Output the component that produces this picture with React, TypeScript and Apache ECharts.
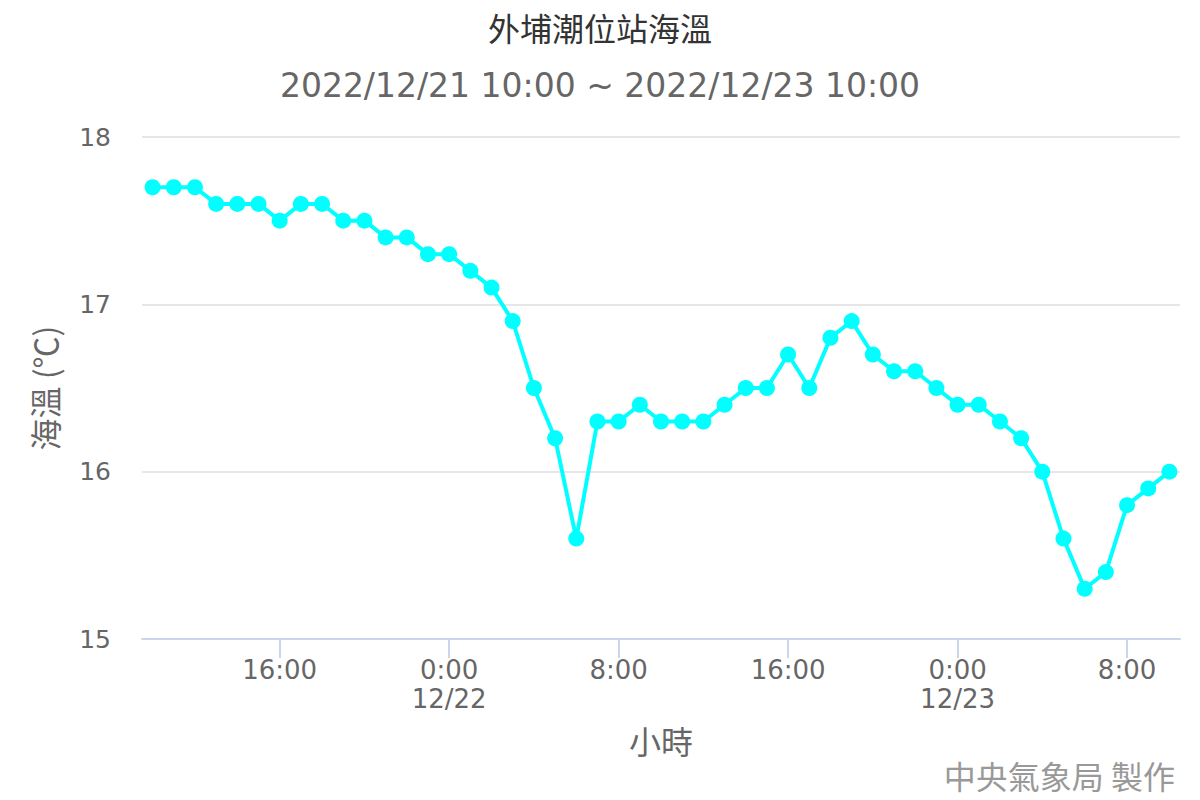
import { useEffect, useRef } from "react"
import * as echarts from "echarts"

// 2022/12/21 10:00 ~ 2022/12/23 10:00, hourly
const categories = [
  "12/21 10:00", "12/21 11:00", "12/21 12:00", "12/21 13:00", "12/21 14:00", "12/21 15:00",
  "12/21 16:00", "12/21 17:00", "12/21 18:00", "12/21 19:00", "12/21 20:00", "12/21 21:00",
  "12/21 22:00", "12/21 23:00", "12/22 0:00", "12/22 1:00", "12/22 2:00", "12/22 3:00",
  "12/22 4:00", "12/22 5:00", "12/22 6:00", "12/22 7:00", "12/22 8:00", "12/22 9:00",
  "12/22 10:00", "12/22 11:00", "12/22 12:00", "12/22 13:00", "12/22 14:00", "12/22 15:00",
  "12/22 16:00", "12/22 17:00", "12/22 18:00", "12/22 19:00", "12/22 20:00", "12/22 21:00",
  "12/22 22:00", "12/22 23:00", "12/23 0:00", "12/23 1:00", "12/23 2:00", "12/23 3:00",
  "12/23 4:00", "12/23 5:00", "12/23 6:00", "12/23 7:00", "12/23 8:00", "12/23 9:00",
  "12/23 10:00",
]

const seaTemp = [
  17.7, 17.7, 17.7, 17.6, 17.6, 17.6, 17.5, 17.6, 17.6, 17.5, 17.5, 17.4,
  17.4, 17.3, 17.3, 17.2, 17.1, 16.9, 16.5, 16.2, 15.6, 16.3, 16.3, 16.4,
  16.3, 16.3, 16.3, 16.4, 16.5, 16.5, 16.7, 16.5, 16.8, 16.9, 16.7, 16.6,
  16.6, 16.5, 16.4, 16.4, 16.3, 16.2, 16.0, 15.6, 15.3, 15.4, 15.8, 15.9,
  16.0,
]

const yTicks = [15, 16, 17, 18]

const titleText = "外埔潮位站海溫"
const subtitleText = "2022/12/21 10:00 ~ 2022/12/23 10:00"
const creditText = "中央氣象局 製作"

const cjk = '"Noto Sans CJK TC", "Noto Sans CJK SC", sans-serif'
const latin = '"DejaVu Sans", "Noto Sans CJK TC", sans-serif'

export default function App() {
  const hostRef = useRef<HTMLDivElement>(null)

  useEffect(() => {
    const el = hostRef.current
    if (!el) return
    const chart = echarts.init(el, undefined, { renderer: "svg" })

    // a label (and tick) every 8 hours, starting at 16:00
    const showLabel = (i: number) => i % 8 === 6

    chart.setOption({
      animation: false,
      backgroundColor: "#ffffff",
      title: [
        {
          text: titleText,
          left: "center",
          top: 6,
          textStyle: { fontFamily: cjk, fontSize: 32, fontWeight: "normal", color: "#333333" },
        },
        {
          text: subtitleText,
          left: "center",
          top: 64,
          textStyle: { fontFamily: latin, fontSize: 33, fontWeight: "normal", color: "#666666" },
        },
        {
          text: creditText,
          right: 20,
          bottom: 4,
          textStyle: { fontFamily: cjk, fontSize: 32, fontWeight: "normal", color: "#999999" },
        },
      ],
      grid: { left: 142, right: 20, top: 137, bottom: 161, containLabel: false },
      xAxis: {
        type: "category",
        data: categories,
        boundaryGap: true,
        name: "小時",
        nameLocation: "middle",
        nameGap: 85,
        nameTextStyle: { fontFamily: cjk, fontSize: 32, color: "#666666" },
        axisLine: { lineStyle: { color: "#ccd6eb", width: 2 } },
        axisTick: {
          show: true,
          alignWithLabel: true,
          interval: (i: number) => showLabel(i),
          length: 19,
          lineStyle: { color: "#ccd6eb", width: 2 },
        },
        axisLabel: {
          interval: (i: number) => showLabel(i),
          margin: 16,
          fontFamily: latin,
          fontSize: 26,
          lineHeight: 29,
          color: "#666666",
          formatter: (v: string) => {
            const [date, time] = v.split(" ")
            return time === "0:00" ? `${time}\n${date}` : time
          },
        },
        splitLine: { show: false },
      },
      yAxis: {
        type: "value",
        min: yTicks[0],
        max: yTicks[yTicks.length - 1],
        interval: 1,
        name: "海溫 (℃)",
        nameLocation: "middle",
        nameGap: 82,
        nameTextStyle: { fontFamily: cjk, fontSize: 32, color: "#666666" },
        axisLine: { show: false },
        axisTick: { show: false },
        axisLabel: { margin: 31, fontFamily: latin, fontSize: 25, color: "#666666" },
        splitLine: { lineStyle: { color: "#e6e6e6", width: 2 } },
      },
      series: [
        {
          type: "line",
          name: "海溫",
          data: seaTemp,
          showAllSymbol: true,
          symbol: "circle",
          symbolSize: 16,
          lineStyle: { color: "#00ffff", width: 4 },
          itemStyle: { color: "#00ffff", borderWidth: 0 },
        },
      ],
    })

    return () => {
      chart.dispose()
    }
  }, [])

  return (
    <div
      ref={hostRef}
      style={{ position: "fixed", left: 0, top: 0, width: 1200, height: 800 }}
      role="img"
      aria-label="外埔潮位站海溫"
    />
  )
}
